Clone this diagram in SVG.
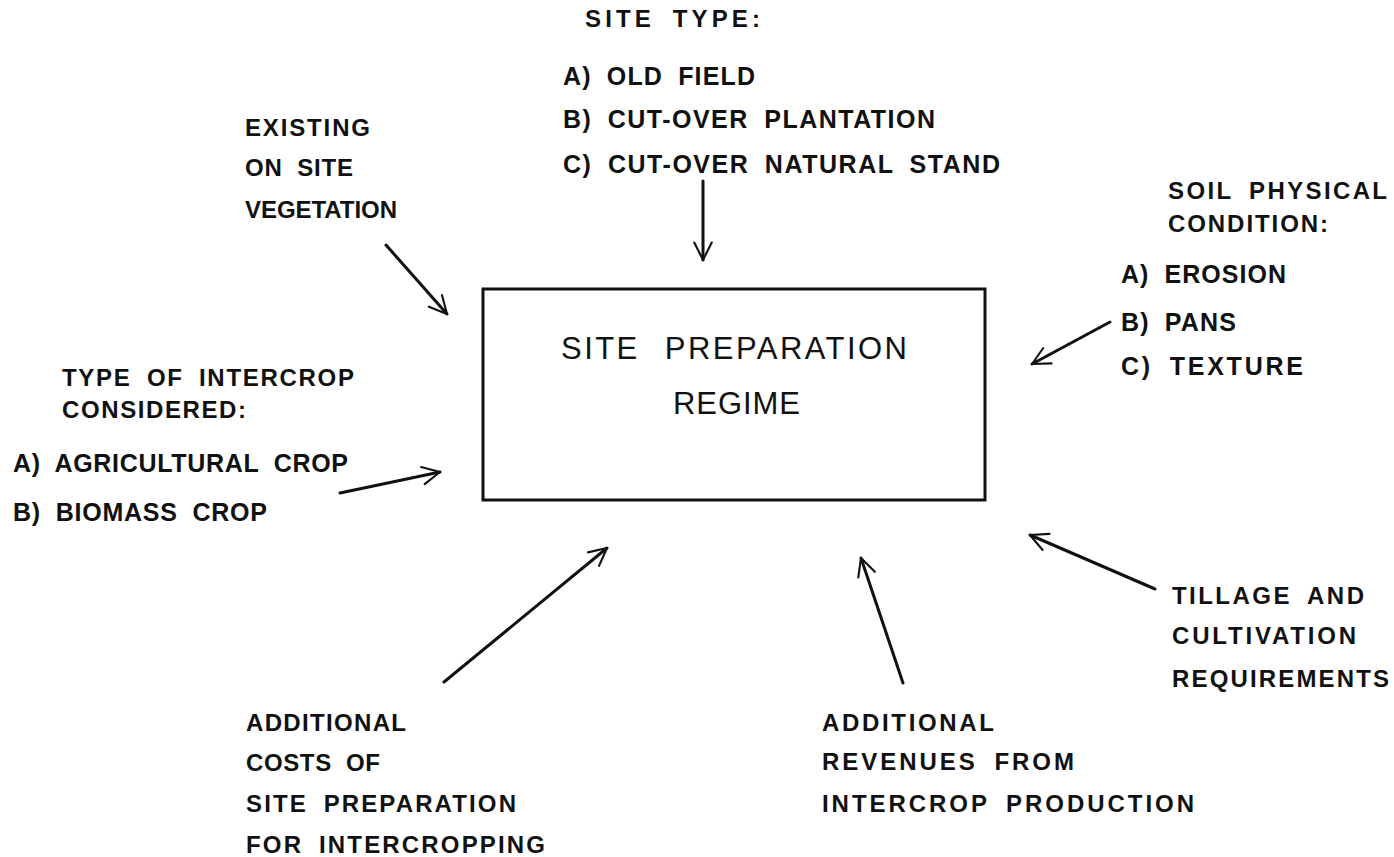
<svg xmlns="http://www.w3.org/2000/svg" width="1394" height="857" viewBox="0 0 1394 857">
<style>
text{font-family:"Liberation Sans",Arial,sans-serif;font-size:25px;font-weight:bold;fill:#111;word-spacing:7px;}
.hd{font-size:24px;}
.big{font-size:31px;font-weight:normal;word-spacing:14px;}
.box{fill:none;stroke:#111;stroke-width:3;}
.c{fill:none;stroke:#111;stroke-width:3;stroke-linecap:round;}
</style>
<defs>
<marker id="ah" viewBox="0 0 12 12" refX="11" refY="6" markerWidth="7" markerHeight="7" orient="auto" markerUnits="strokeWidth">
<path d="M1,1 L11,6 L1,11" fill="none" stroke="#111" stroke-width="1.2" stroke-linecap="round" stroke-linejoin="round"/>
</marker>
</defs>
<rect width="1394" height="857" fill="#fff"/>
<g id="center">
<rect class="box" x="483" y="289" width="502" height="211"/>
<text class="big" x="561" y="359" textLength="346" lengthAdjust="spacing">SITE PREPARATION</text>
<text class="big" x="673" y="414" textLength="127" lengthAdjust="spacing">REGIME</text>
</g>
<g id="site-type">
<text class="hd" x="585" y="27" textLength="175" lengthAdjust="spacing">SITE TYPE:</text>
<text x="563" y="85" textLength="192" lengthAdjust="spacing">A) OLD FIELD</text>
<text x="563" y="128" textLength="372" lengthAdjust="spacing">B) CUT-OVER PLANTATION</text>
<text x="563" y="173" textLength="437" lengthAdjust="spacing">C) CUT-OVER NATURAL STAND</text>
</g>
<g id="vegetation">
<text class="hd" x="245" y="136" textLength="125" lengthAdjust="spacing">EXISTING</text>
<text class="hd" x="245" y="176" textLength="108" lengthAdjust="spacing">ON SITE</text>
<text class="hd" x="245" y="218" textLength="152" lengthAdjust="spacing">VEGETATION</text>
</g>
<g id="soil">
<text class="hd" x="1168" y="199" textLength="219" lengthAdjust="spacing">SOIL PHYSICAL</text>
<text class="hd" x="1168" y="232" textLength="160" lengthAdjust="spacing">CONDITION:</text>
<text x="1121" y="283" textLength="165" lengthAdjust="spacing">A) EROSION</text>
<text x="1121" y="331" textLength="115" lengthAdjust="spacing">B) PANS</text>
<text x="1121" y="375" textLength="182" lengthAdjust="spacing">C) TEXTURE</text>
</g>
<g id="intercrop">
<text class="hd" x="62" y="386" textLength="292" lengthAdjust="spacing">TYPE OF INTERCROP</text>
<text class="hd" x="62" y="418" textLength="184" lengthAdjust="spacing">CONSIDERED:</text>
<text x="13" y="472" textLength="335" lengthAdjust="spacing">A) AGRICULTURAL CROP</text>
<text x="13" y="521" textLength="254" lengthAdjust="spacing">B) BIOMASS CROP</text>
</g>
<g id="tillage">
<text class="hd" x="1172" y="604" textLength="192" lengthAdjust="spacing">TILLAGE AND</text>
<text class="hd" x="1172" y="644" textLength="184" lengthAdjust="spacing">CULTIVATION</text>
<text class="hd" x="1172" y="687" textLength="217" lengthAdjust="spacing">REQUIREMENTS</text>
</g>
<g id="costs">
<text class="hd" x="246" y="731" textLength="160" lengthAdjust="spacing">ADDITIONAL</text>
<text class="hd" x="246" y="771" textLength="134" lengthAdjust="spacing">COSTS OF</text>
<text class="hd" x="246" y="812" textLength="270" lengthAdjust="spacing">SITE PREPARATION</text>
<text class="hd" x="246" y="853" textLength="299" lengthAdjust="spacing">FOR INTERCROPPING</text>
</g>
<g id="revenues">
<text class="hd" x="822" y="731" textLength="172" lengthAdjust="spacing">ADDITIONAL</text>
<text class="hd" x="822" y="770" textLength="252" lengthAdjust="spacing">REVENUES FROM</text>
<text class="hd" x="822" y="812" textLength="372" lengthAdjust="spacing">INTERCROP PRODUCTION</text>
</g>
<g id="connectors">
<line class="c" x1="386" y1="245" x2="447" y2="314" marker-end="url(#ah)"/>
<line class="c" x1="703" y1="181" x2="703" y2="260" marker-end="url(#ah)"/>
<line class="c" x1="1110" y1="322" x2="1032" y2="364" marker-end="url(#ah)"/>
<line class="c" x1="340" y1="493" x2="440" y2="472" marker-end="url(#ah)"/>
<line class="c" x1="444" y1="682" x2="607" y2="548" marker-end="url(#ah)"/>
<line class="c" x1="903" y1="683" x2="861" y2="558" marker-end="url(#ah)"/>
<line class="c" x1="1155" y1="589" x2="1030" y2="535" marker-end="url(#ah)"/>
</g>
</svg>
